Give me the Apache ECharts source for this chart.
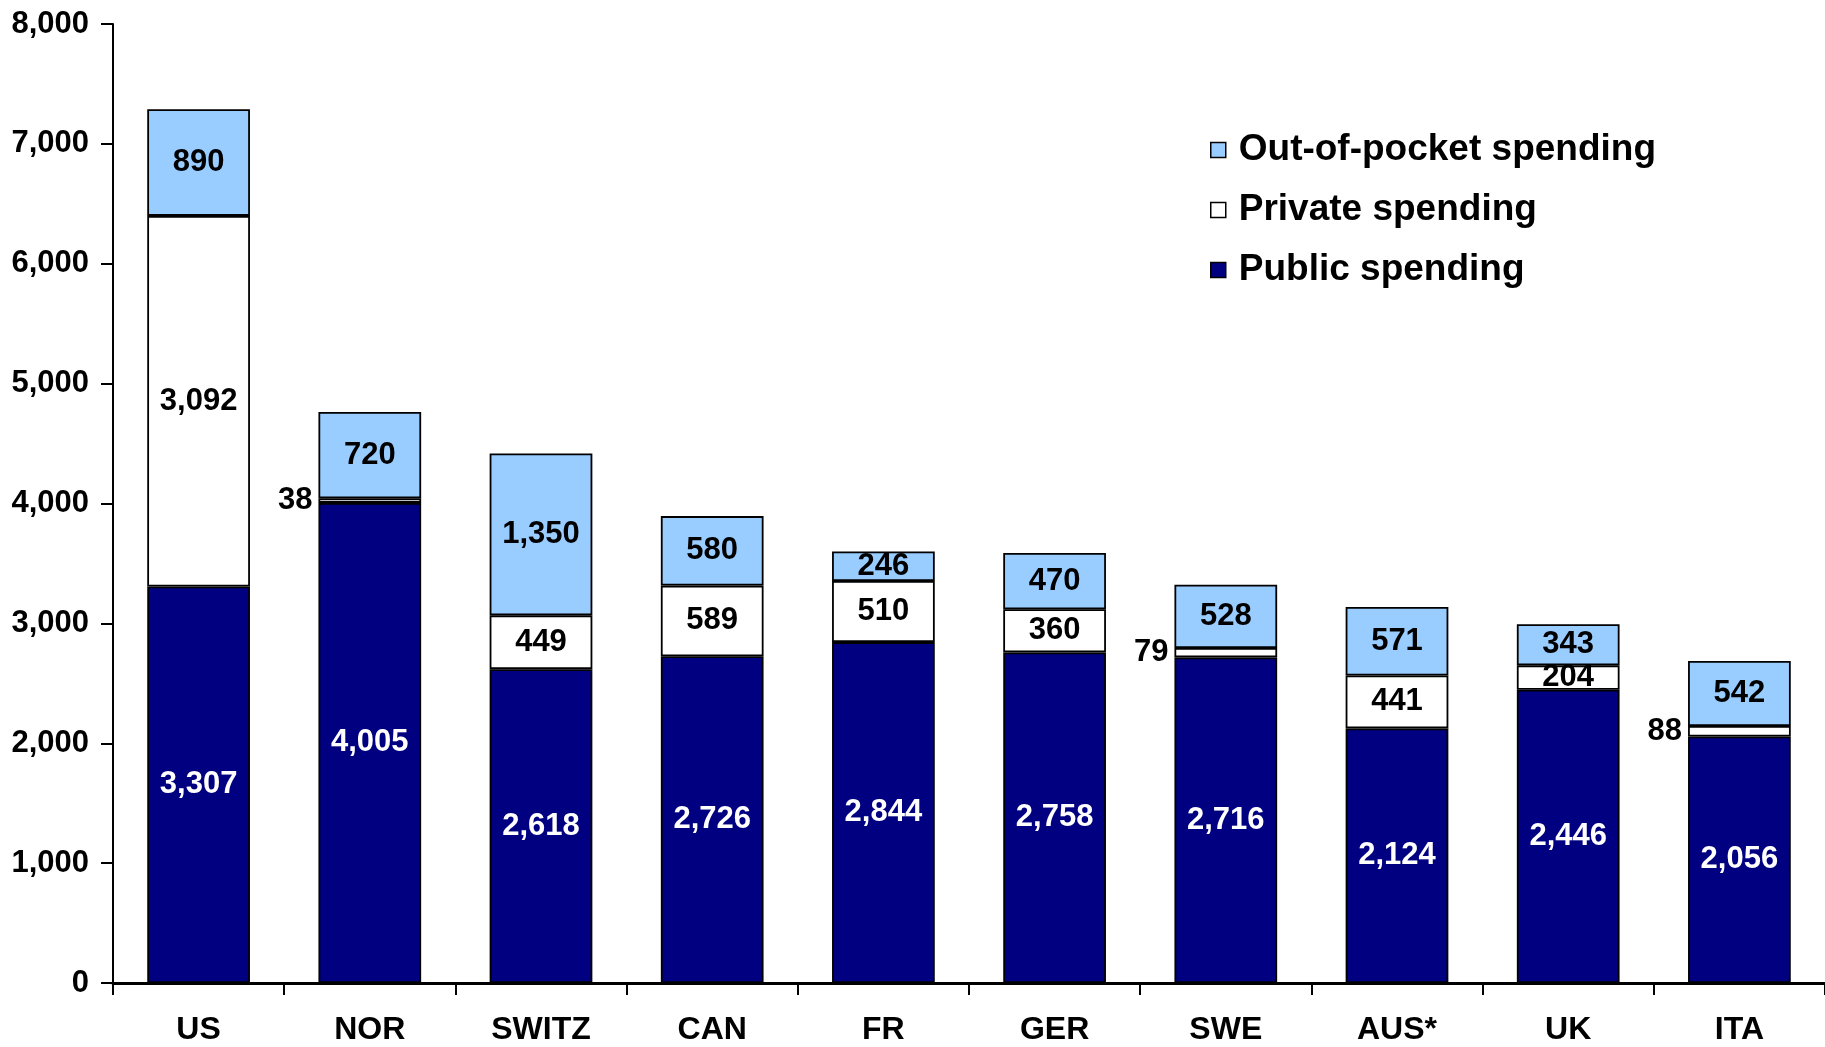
<!DOCTYPE html>
<html>
<head>
<meta charset="utf-8">
<script src="https://cdn.jsdelivr.net/npm/echarts@6/dist/echarts.min.js"></script>
<style>
html,body{margin:0;padding:0;background:#fff;}
#chart{width:1825px;height:1047px;}
</style>
</head>
<body>
<div id="chart"></div>
<script>
const categories = ['US','NOR','SWITZ','CAN','FR','GER','SWE','AUS*','UK','ITA'];
const publicSpending = [3307,4005,2618,2726,2844,2758,2716,2124,2446,2056];
const privateSpending = [3092,38,449,589,510,360,79,441,204,88];
const outOfPocket = [890,720,1350,580,246,470,528,571,343,542];
const seriesNames = ['Public spending','Private spending','Out-of-pocket spending'];
const yTicks = [0,1000,2000,3000,4000,5000,6000,7000,8000];

const FONT = '"Liberation Sans", Arial, sans-serif';
const fmt = v => Number(v).toLocaleString('en-US');

const chart = echarts.init(document.getElementById('chart'), null, {renderer:'canvas'});

const border = {borderColor:'#000', borderWidth:1.8};
const lbl = (color) => ({
  show:true, position:'inside', color:color, fontFamily:FONT, fontWeight:'bold', fontSize:31,
  formatter: p => fmt(p.value)
});

const privData = privateSpending.map(v => v < 100
  ? {value:v, label:{position:'left', distance:6}}
  : v);

chart.setOption({
  animation:false,
  backgroundColor:'#fff',
  grid:{left:113, right:-7, top:24, bottom:64, containLabel:false},
  legend:{
    orient:'vertical', left:1205, top:124,
    data:['Out-of-pocket spending','Private spending','Public spending'],
    icon:'rect', itemWidth:15, itemHeight:15, itemGap:18,
    textStyle:{fontFamily:FONT, fontWeight:'bold', fontSize:37, color:'#000', lineHeight:42, padding:[0,0,0,8]},
    itemStyle:{borderColor:'#000', borderWidth:1.5}
  },
  xAxis:{
    type:'category', data:categories,
    axisLine:{lineStyle:{color:'#000', width:3}},
    axisTick:{show:true, length:12, lineStyle:{color:'#000', width:2}, alignWithLabel:false},
    axisLabel:{color:'#000', fontFamily:FONT, fontWeight:'bold', fontSize:32, margin:31}
  },
  yAxis:{
    type:'value', min:yTicks[0], max:yTicks[yTicks.length-1], interval:yTicks[1]-yTicks[0],
    axisLine:{show:true, lineStyle:{color:'#000', width:2}},
    axisTick:{show:true, length:12, lineStyle:{color:'#000', width:2}},
    splitLine:{show:false},
    axisLabel:{color:'#000', fontFamily:FONT, fontWeight:'bold', fontSize:31, margin:24, formatter: v => fmt(v)}
  },
  series:[
    {name:seriesNames[0], type:'bar', stack:'s', data:publicSpending, barWidth:'60%',
     itemStyle:Object.assign({color:'#000080'}, border), label:lbl('#fff')},
    {name:seriesNames[1], type:'bar', stack:'s', data:privData,
     itemStyle:Object.assign({color:'#ffffff'}, border), label:lbl('#000')},
    {name:seriesNames[2], type:'bar', stack:'s', data:outOfPocket,
     itemStyle:Object.assign({color:'#99CCFF'}, border), label:lbl('#000')}
  ]
});
</script>
</body>
</html>
